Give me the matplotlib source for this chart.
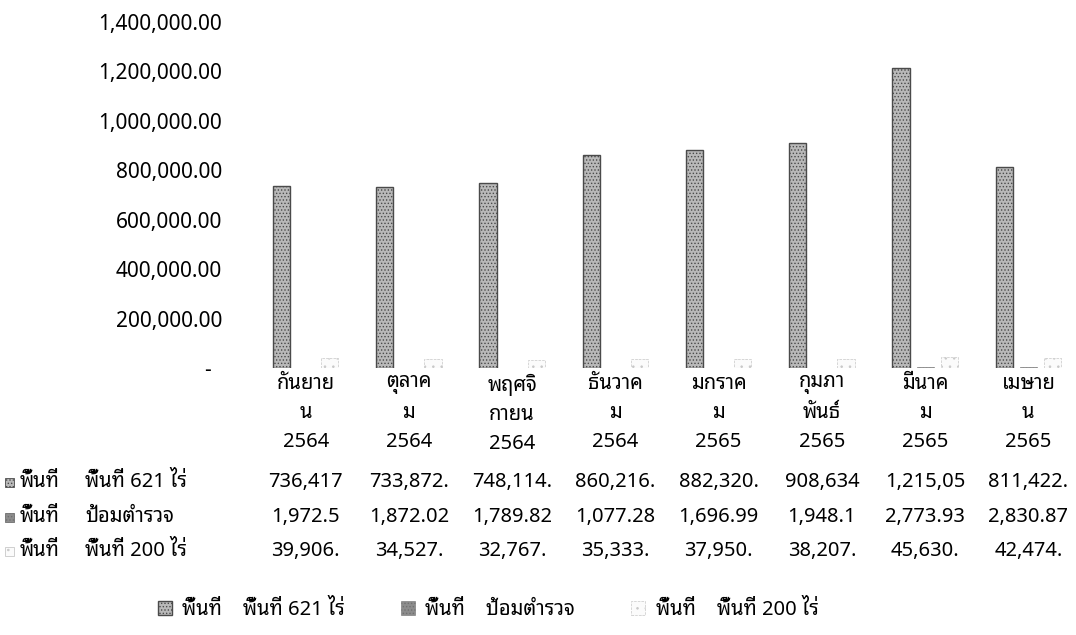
"""Bar chart of area figures by month with an Excel style data table."""

import numpy as np
import matplotlib
matplotlib.use('Agg')
import matplotlib.pyplot as plt
from matplotlib import font_manager
from matplotlib.patches import Rectangle
from matplotlib.ticker import FuncFormatter
from matplotlib.transforms import blended_transform_factory

months = ['กันยาย\nน', 'ตุลาค\nม', 'พฤศจิ\nกายน', 'ธันวาค\nม',
          'มกราค\nม', 'กุมภา\nพันธ์', 'มีนาค\nม', 'เมษาย\nน']
years = ['2564', '2564', '2564', '2564', '2565', '2565', '2565', '2565']

area_621 = [736417, 733872, 748114, 860216, 882320, 908634, 1215050, 811422]
police = [1972.5, 1872.02, 1789.82, 1077.28, 1696.99, 1948.1, 2773.93, 2830.87]
area_200 = [39906, 34527, 32767, 35333, 37950, 38207, 45630, 42474]

# what the data table cells show (the cells cut the numbers off)
cells_621 = ['736,417', '733,872.', '748,114.', '860,216.', '882,320.',
             '908,634', '1,215,05', '811,422.']
cells_police = ['1,972.5', '1,872.02', '1,789.82', '1,077.28', '1,696.99',
                '1,948.1', '2,773.93', '2,830.87']
cells_200 = ['39,906.', '34,527.', '32,767.', '35,333.', '37,950.',
             '38,207.', '45,630.', '42,474.']

group_name = 'พื้นที่'
series_names = ['พื้นที่ 621 ไร่', 'ป้อมตำรวจ', 'พื้นที่ 200 ไร่']
y_ticks = np.arange(0, 1400001, 200000)


def find_thai_font():
    """Return the name of an installed family that has Thai glyphs."""
    try:
        from fontTools.ttLib import TTFont
    except ImportError:
        return None
    found = []
    for entry in font_manager.fontManager.ttflist:
        try:
            cmap = TTFont(entry.fname, fontNumber=0, lazy=True).getBestCmap()
        except Exception:  # pylint: disable=broad-except
            continue
        if cmap and 0x0E01 in cmap and 0x0E35 in cmap:
            found.append(entry.name)
    if not found:
        return None
    for pref in ('Noto Sans Thai Looped', 'Noto Sans Thai', 'Tahoma'):
        if pref in found:
            return pref
    sans = [n for n in found if 'Serif' not in n]
    return (sans or found)[0]


thai = find_thai_font()
families = ['Noto Sans'] + ([thai] if thai else []) + ['DejaVu Sans']
plt.rcParams['font.family'] = families
plt.rcParams['hatch.linewidth'] = 0.6

W, H = 1076, 635
fig = plt.figure(figsize=(W / 100, H / 100), dpi=100)
ax = fig.add_axes([254 / W, (H - 368) / H, (1080 - 254) / W, 346 / H])

x = np.arange(len(months))
bw = 0.166
off = 0.234
styles = [
    dict(facecolor='#b9b9b9', edgecolor='#4a4a4a', hatch='.....', linewidth=1.0),
    dict(facecolor='#8c8c8c', edgecolor='#707070', hatch='.....', linewidth=0.4),
    dict(facecolor='#fbfbfb', edgecolor='#c8c8c8', hatch='..', linewidth=0.5,
         linestyle='--'),
]
bars = []
for i, vals in enumerate([area_621, police, area_200]):
    bars.append(ax.bar(x + (i - 1) * off, vals, bw, **styles[i]))

ax.set_xlim(-0.5, len(months) - 0.5)
ax.set_ylim(0, 1400000)
ax.set_yticks(y_ticks)
ax.yaxis.set_major_formatter(
    FuncFormatter(lambda v, p: '-  ' if v == 0 else f'{v:,.2f}'))
ax.set_xticks(x)
ax.set_xticklabels([m + '\n' + y for m, y in zip(months, years)],
                   linespacing=1.6)
ax.tick_params(axis='y', length=0, pad=23, labelsize=15)
ax.tick_params(axis='x', length=0, pad=4, labelsize=14.5)
for s in ax.spines.values():
    s.set_visible(False)

# data table under the chart
tr = blended_transform_factory(ax.transData, fig.transFigure)
rows = [cells_621, cells_police, cells_200]
row_y = [482, 517, 551]
for r, (cells, ypx) in enumerate(zip(rows, row_y)):
    yf = 1 - ypx / H
    st = styles[r]
    fig.add_artist(Rectangle((5 / W, yf - 5 / H), 9 / W, 9 / H,
                             transform=fig.transFigure,
                             facecolor=st['facecolor'], edgecolor=st['edgecolor'],
                             hatch=st['hatch'], linewidth=0.6))
    fig.text(20 / W, yf, group_name, ha='left', va='center', fontsize=14.5)
    fig.text(85 / W, yf, series_names[r], ha='left', va='center',
             fontsize=14.5)
    for xi, txt in zip(x, cells):
        fig.text(xi, yf, txt, ha='center', va='center', fontsize=14.5,
                 transform=tr)

fig.legend(handles=bars,
           labels=[group_name + '    ' + n for n in series_names],
           loc='center', bbox_to_anchor=(488 / W, 1 - 610 / H), ncol=3,
           frameon=False, fontsize=14.5, handlelength=0.7, handleheight=0.7,
           handletextpad=0.5, columnspacing=2.8)

fig.savefig('out.png', dpi=100)
